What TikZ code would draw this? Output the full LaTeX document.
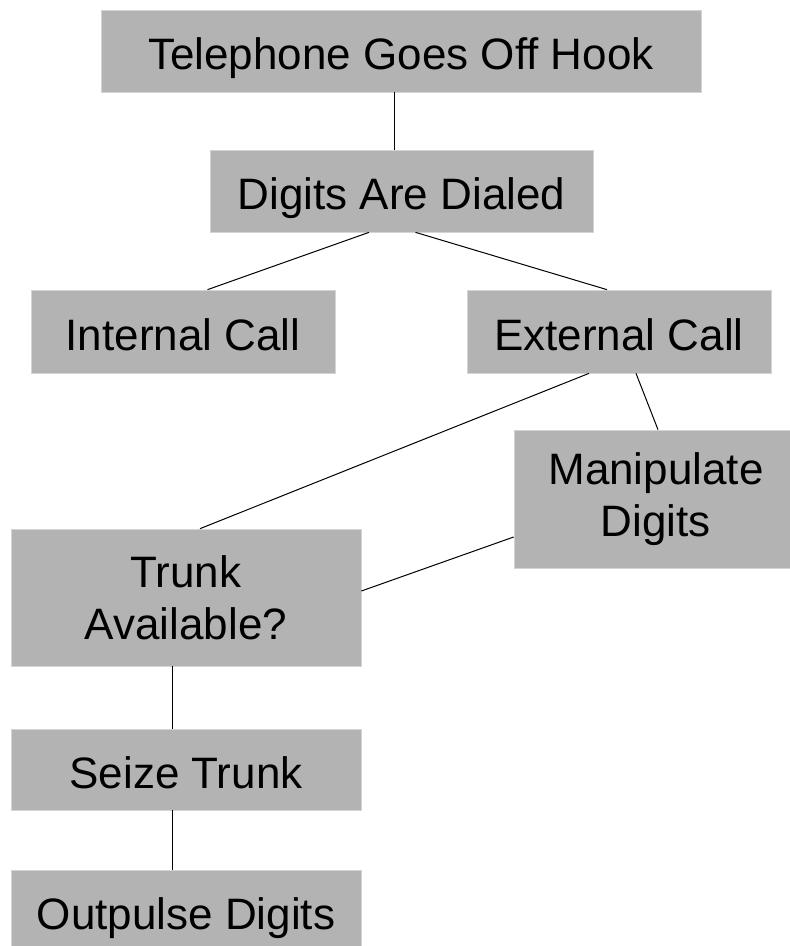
\documentclass[tikz,border=0pt]{standalone}
\usepackage{fontspec}
\setmainfont{Liberation Sans}
\definecolor{boxfill}{RGB}{179,179,179}
\definecolor{boxedge}{RGB}{212,212,212}
\begin{document}
\begin{tikzpicture}[x=1pt,y=-1pt,
  stepbox/.style={fill=boxfill, draw=boxedge, line width=0.7pt, inner sep=0pt,
    font=\fontsize{44}{52}\selectfont},
  oneline/.style={stepbox, text height=37pt, text depth=0pt},
  twoline/.style={stepbox, align=center},
  link/.style={draw=black, line width=1pt}]
\useasboundingbox (0,0) rectangle (790,946);

% call-processing steps
\node[oneline, minimum width=600pt, minimum height=82pt] (b1) at (401,51) {Telephone Goes Off Hook};
\node[oneline, minimum width=383pt, minimum height=82pt] (b2) at (401.5,191) {Digits Are Dialed};
\node[oneline, minimum width=304pt, minimum height=83pt] (b3) at (183,331.5) {Internal Call};
\node[oneline, minimum width=304pt, minimum height=83pt] (b4) at (619,331.5) {External Call};
\node[twoline, minimum width=284pt, minimum height=138pt] (b5) at (656,499) {Manipulate\\Digits};
\node[twoline, minimum width=350pt, minimum height=137pt] (b6) at (186,597.5) {Trunk\\Available?};
\node[oneline, minimum width=350pt, minimum height=81pt] (b7) at (186,769.5) {Seize Trunk};
\node[oneline, minimum width=350pt, minimum height=81pt] (b8) at (186,910.5) {Outpulse Digits};

% connections between steps
\draw[link] ([xshift=-6.5pt]b1.south) -- ([xshift=-7pt]b2.north);
\draw[link] ([xshift=-32.5pt]b2.south) -- ([xshift=24.5pt]b3.north);
\draw[link] ([xshift=14pt]b2.south) -- ([xshift=-12pt]b4.north);
\draw[link] ([xshift=-30pt]b4.south) -- ([xshift=14pt]b6.north);
\draw[link] ([xshift=17pt]b4.south) -- ([xshift=2pt]b5.north);
\draw[link] ([yshift=-38pt]b5.west) -- ([yshift=6.5pt]b6.east);
\draw[link] ([xshift=-14pt]b6.south) -- ([xshift=-14pt]b7.north);
\draw[link] ([xshift=-14pt]b7.south) -- ([xshift=-14pt]b8.north);
\end{tikzpicture}
\end{document}
